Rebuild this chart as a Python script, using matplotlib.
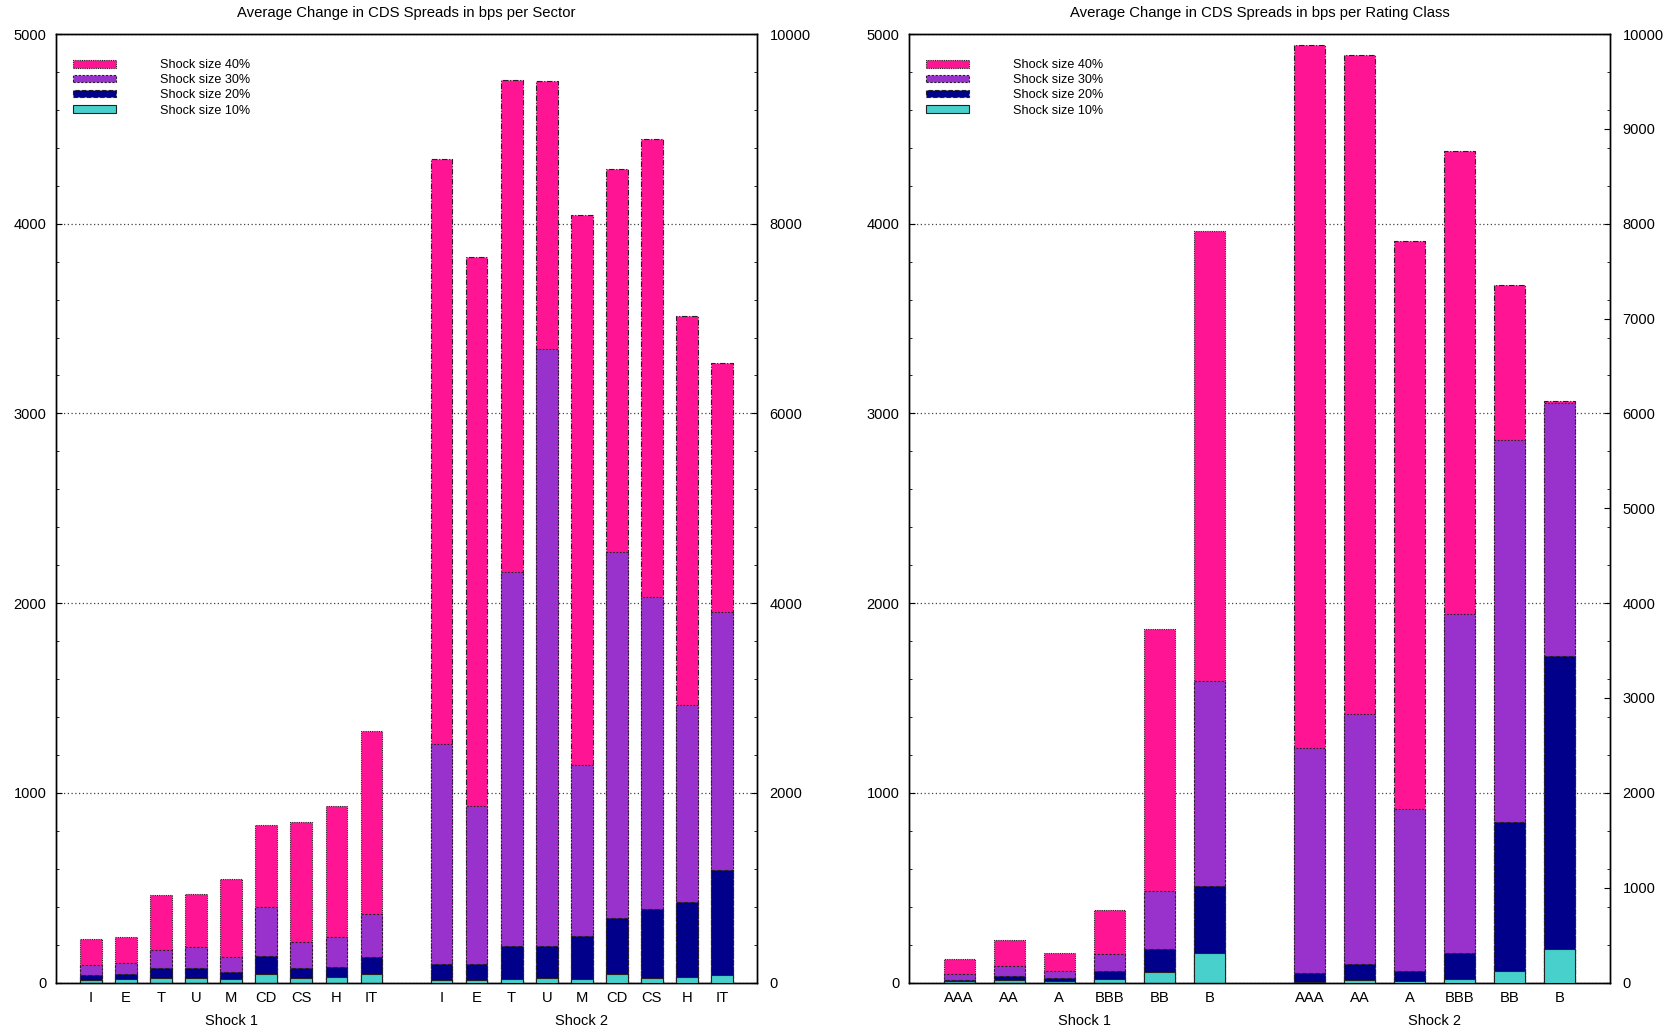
import numpy as np
import matplotlib.pyplot as plt
from matplotlib.patches import Rectangle
from matplotlib.ticker import MultipleLocator
from matplotlib.transforms import blended_transform_factory

plt.rcParams['font.family'] = ['Liberation Sans', 'DejaVu Sans']

# bps change per sector; shock 1 on the left axis, shock 2 on the right axis
sectors = ['I', 'E', 'T', 'U', 'M', 'CD', 'CS', 'H', 'IT']
sec_s1_40 = [230, 239, 461, 468, 547, 830, 847, 930, 1327]
sec_s1_30 = [90, 104, 172, 185, 132, 399, 216, 239, 362]
sec_s1_20 = [37, 46, 74, 77, 53, 142, 79, 84, 137]
sec_s1_10 = [14, 18, 25, 26, 18, 44, 25, 28, 46]
sec_s2_40 = [8684, 7648, 9510, 9506, 8090, 8578, 8888, 7029, 6533]
sec_s2_30 = [2516, 1856, 4327, 6681, 2295, 4544, 4063, 2925, 3901]
sec_s2_20 = [190, 190, 380, 390, 492, 682, 770, 844, 1188]
sec_s2_10 = [25, 28, 42, 52, 32, 94, 52, 60, 84]

# bps change per rating class
ratings = ['AAA', 'AA', 'A', 'BBB', 'BB', 'B']
rat_s1_40 = [123, 223, 155, 380, 1864, 3964]
rat_s1_30 = [46, 88, 63, 151, 482, 1589]
rat_s1_20 = [14, 32, 26, 63, 178, 510]
rat_s1_10 = [7, 12, 9, 19, 56, 153]
rat_s2_40 = [9883, 9777, 7820, 8766, 7353, 6136]
rat_s2_30 = [2475, 2830, 1828, 3890, 5722, 6110]
rat_s2_20 = [105, 190, 126, 316, 1688, 3447]
rat_s2_10 = [10, 25, 18, 42, 116, 352]

labels = ['Shock size 40%', 'Shock size 30%', 'Shock size 20%', 'Shock size 10%']
colors = ['#ff1493', '#9932cc', '#00008b', '#48d1cc']
edge1 = [(0, (1, 1)), (0, (2, 1.5)), (0, (4, 2)), '-']
edge2 = [(0, (5, 1.5, 1, 1.5)), (0, (1.5, 1.5)), (0, (4, 2)), '-']

W, H = 1680, 1031
fig = plt.figure(figsize=(W / 100, H / 100), dpi=100)


def panel(x0, x1, title, cats, s1, s2, xlim, right_step):
    top, bot = 34, 982.5
    ax = fig.add_axes([x0 / W, 1 - bot / H, (x1 - x0) / W, (bot - top) / H])
    ax2 = ax.twinx()
    n = len(cats)
    pos1 = np.arange(n)
    pos2 = np.arange(n) + n + 1
    bw = 0.62

    for vals, c, ls in zip(s1, colors, edge1):
        ax.bar(pos1, vals, width=bw, color=c, edgecolor='#222222',
               linewidth=0.8, linestyle=ls, zorder=3)
    for vals, c, ls in zip(s2, colors, edge2):
        ax2.bar(pos2, vals, width=bw, color=c, edgecolor='#222222',
                linewidth=0.8, linestyle=ls, zorder=3)

    ax.set_xlim(*xlim)
    ax.set_ylim(0, 5000)
    ax2.set_ylim(0, 10000)
    ax.yaxis.set_major_locator(MultipleLocator(1000))
    ax.yaxis.set_minor_locator(MultipleLocator(200))
    ax2.yaxis.set_major_locator(MultipleLocator(right_step))
    ax2.yaxis.set_minor_locator(MultipleLocator(400))
    ax.set_axisbelow(True)
    ax.yaxis.grid(True, which='major', linestyle=(0, (1, 2)), color='#444444', linewidth=0.9)

    ax.set_xticks(np.concatenate([pos1, pos2]))
    ax.set_xticklabels(cats + cats, fontsize=10.6)
    ax.tick_params(axis='x', length=0, pad=6)
    ax.tick_params(axis='y', which='both', direction='in', left=True, right=False, labelsize=10.5)
    ax.tick_params(axis='y', which='major', length=4.5, pad=7)
    ax.tick_params(axis='y', which='minor', length=2.2)
    ax2.tick_params(axis='y', which='both', direction='in', labelsize=10.5)
    ax2.tick_params(axis='y', which='major', length=4.5, pad=9)
    ax2.tick_params(axis='y', which='minor', length=2.2)
    for a in (ax, ax2):
        for sp in a.spines.values():
            sp.set_linewidth(1.0)

    tr = blended_transform_factory(ax.transData, ax.transAxes)
    ax.text((n - 1) / 2, -0.0403, 'Shock 1', transform=tr, ha='center', va='center', fontsize=10.5)
    ax.text(n + 1 + (n - 1) / 2, -0.0403, 'Shock 2', transform=tr, ha='center', va='center', fontsize=10.5)

    fig.text((x0 + x1) / 2 / W, 1 - 13 / H, title, ha='center', va='center', fontsize=10.7)

    # key in the upper left corner
    rows = [64, 79, 94, 109]
    span = x1 - x0
    for yc, lab, c, ls in zip(rows, labels, colors, edge1):
        yf = (bot - yc) / (bot - top)
        hh = 7 / (bot - top)
        ax2.add_patch(Rectangle((17 / span, yf - hh / 2), 43 / span, hh,
                                transform=ax.transAxes, facecolor=c, edgecolor='#222222',
                                linewidth=0.8, linestyle=ls, zorder=5, clip_on=False))
        ax2.text(104 / span, yf - 1.5 / (bot - top), lab, transform=ax.transAxes,
                 ha='left', va='center', fontsize=9.1, zorder=5)
    return ax


panel(56, 757, 'Average Change in CDS Spreads in bps per Sector', sectors,
      [sec_s1_40, sec_s1_30, sec_s1_20, sec_s1_10],
      [sec_s2_40, sec_s2_30, sec_s2_20, sec_s2_10],
      (-1, 19), 2000)

panel(909, 1610, 'Average Change in CDS Spreads in bps per Rating Class', ratings,
      [rat_s1_40, rat_s1_30, rat_s1_20, rat_s1_10],
      [rat_s2_40, rat_s2_30, rat_s2_20, rat_s2_10],
      (-1, 13), 1000)

fig.savefig('out.png', dpi=100)
